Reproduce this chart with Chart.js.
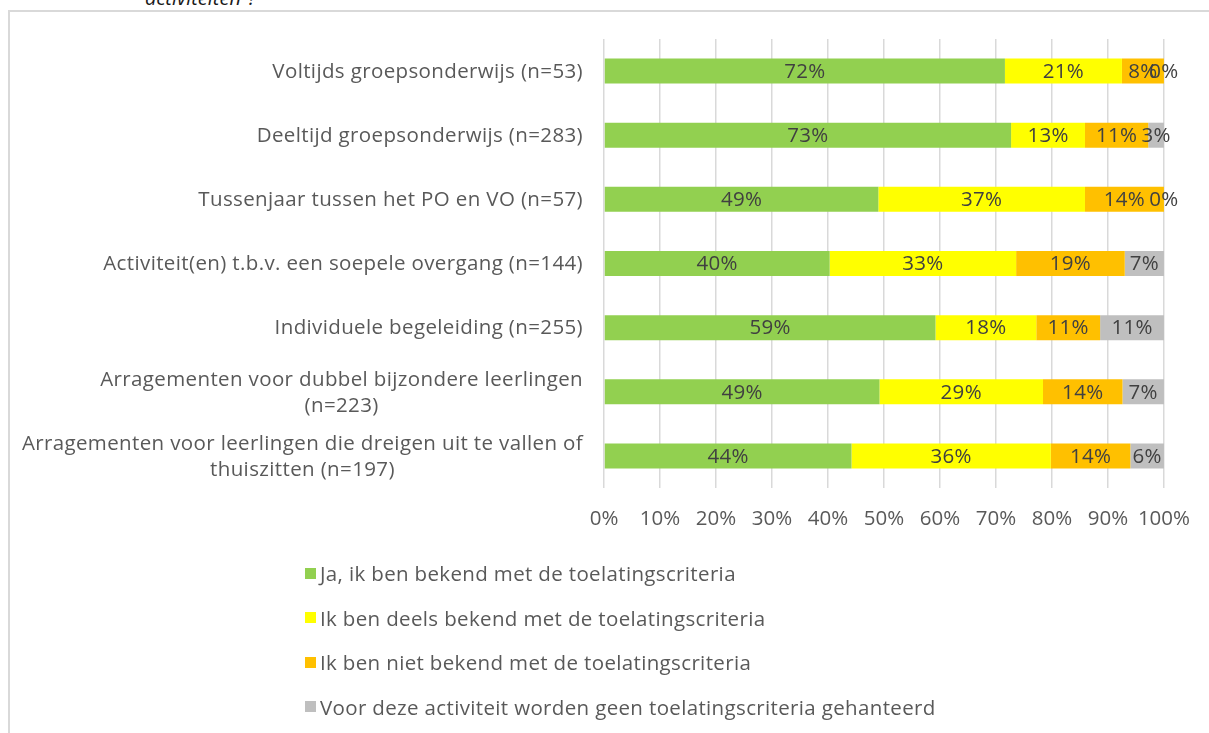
<!DOCTYPE html>
<html>
<head>
<meta charset="utf-8">
<script src="https://cdn.jsdelivr.net/npm/chart.js@4.4.1/dist/chart.umd.min.js"></script>
<style>
  html, body { margin: 0; padding: 0; background: #fff; overflow: hidden; }
  #wrap { position: relative; width: 1209px; height: 733px; }
  #frame { position: absolute; left: 8px; top: 10px; width: 1400px; height: 900px;
           border: 2px solid #d9d9d9; box-sizing: border-box; }
  #title { position: absolute; left: 145px; top: -12px; font-family: "Open Sans", sans-serif;
           font-style: italic; font-size: 20px; color: #1a1a1a; white-space: nowrap; line-height: 20px; }
  #chartBox { position: absolute; left: 0; top: 0; width: 1209px; height: 733px; }
  #legend { position: absolute; left: 305px; top: 560px; font-family: "Open Sans", sans-serif;
            font-size: 20.5px; letter-spacing: 0.35px; color: #595959; }
  #legend .item { display: flex; align-items: center; height: 26px; margin-bottom: 18.5px; white-space: nowrap; }
  #legend .box { width: 11px; height: 11px; margin-right: 4px; display: inline-block; }
</style>
</head>
<body>
<div id="wrap">
  <div id="frame"></div>
  <div id="title">activiteiten”?</div>
  <div id="chartBox"><canvas id="c" width="1209" height="733"></canvas></div>
  <div id="legend"></div>
</div>
<script>
const categories = [
  ["Voltijds groepsonderwijs (n=53)"],
  ["Deeltijd groepsonderwijs (n=283)"],
  ["Tussenjaar tussen het PO en VO (n=57)"],
  ["Activiteit(en) t.b.v. een soepele overgang (n=144)"],
  ["Individuele begeleiding (n=255)"],
  ["Arragementen voor dubbel bijzondere leerlingen", "(n=223)"],
  ["Arragementen voor leerlingen die dreigen uit te vallen of", "thuiszitten (n=197)"]
];
const seriesNames = [
  "Ja, ik ben bekend met de toelatingscriteria",
  "Ik ben deels bekend met de toelatingscriteria",
  "Ik ben niet bekend met de toelatingscriteria",
  "Voor deze activiteit worden geen toelatingscriteria gehanteerd"
];
const bekend      = [71.6, 72.7, 49.0, 40.3, 59.2, 49.2, 44.2];
const deels       = [20.9, 13.2, 36.9, 33.3, 18.0, 29.2, 35.6];
const nietBekend  = [7.5, 11.3, 14.1, 19.4, 11.4, 14.2, 14.2];
const geenCriteria= [0.0, 2.8, 0.0, 7.0, 11.4, 7.4, 6.0];
const xTicks = [0, 10, 20, 30, 40, 50, 60, 70, 80, 90, 100];
const colors = ["#92d050", "#ffff00", "#ffc000", "#bfbfbf"];

const FONT = "'Open Sans', sans-serif";
const FSIZE = 20.5;

const barLabels = {
  id: 'barLabels',
  afterDatasetsDraw(chart) {
    const ctx = chart.ctx;
    ctx.save();
    ctx.font = FSIZE + "px " + FONT;
    ctx.letterSpacing = "0.3px";
    ctx.fillStyle = "#404040";
    ctx.textAlign = "center";
    ctx.textBaseline = "middle";
    chart.data.datasets.forEach((ds, di) => {
      const meta = chart.getDatasetMeta(di);
      meta.data.forEach((el, i) => {
        const v = ds.data[i];
        const cx = (el.x + el.base) / 2;
        ctx.fillText(Math.round(v) + "%", cx, el.y + 1);
      });
    });
    ctx.restore();
  }
};

const catLabels = {
  id: 'catLabels',
  afterDraw(chart) {
    const ctx = chart.ctx;
    const ys = chart.scales.y;
    ctx.save();
    ctx.font = FSIZE + "px " + FONT;
    ctx.letterSpacing = "0.37px";
    ctx.fillStyle = "#595959";
    ctx.textBaseline = "middle";
    ctx.textAlign = "center";
    const right = chart.chartArea.left - 21;
    const lh = 26;
    categories.forEach((lines, i) => {
      const yc = ys.getPixelForValue(i);
      const w = Math.max(...lines.map(l => ctx.measureText(l).width));
      const cx = right - w / 2;
      lines.forEach((l, k) => {
        ctx.fillText(l, cx, yc + (k - (lines.length - 1) / 2) * lh + 1);
      });
    });
    ctx.restore();
  }
};

const chart = new Chart(document.getElementById('c'), {
  type: 'bar',
  data: {
    labels: categories.map(l => l.join(' ')),
    datasets: [bekend, deels, nietBekend, geenCriteria].map((d, i) => ({
      label: seriesNames[i],
      data: d,
      backgroundColor: colors[i],
      borderWidth: 0,
      barPercentage: 0.39,
      categoryPercentage: 1.0
    }))
  },
  options: {
    indexAxis: 'y',
    responsive: false,
    animation: false,
    layout: { padding: { top: 39, right: 44, left: 0, bottom: 195 } },
    plugins: { legend: { display: false }, tooltip: { enabled: false } },
    scales: {
      x: {
        stacked: true, min: 0, max: 100,
        afterBuildTicks: s => { s.ticks = xTicks.map(v => ({ value: v })); },
        ticks: { callback: v => v + '%', color: '#595959', font: { family: FONT, size: FSIZE }, padding: 19, maxRotation: 0 },
        grid: { color: '#d9d9d9', lineWidth: 1.5, drawTicks: false },
        border: { display: false },
        afterFit: s => { s.height = 50; }
      },
      y: {
        stacked: true,
        ticks: { display: false },
        grid: { display: false },
        border: { display: false },
        afterFit: s => { s.width = 604; }
      }
    }
  },
  plugins: [barLabels, catLabels]
});

// HTML legend built from the chart's datasets
const leg = document.getElementById('legend');
chart.data.datasets.forEach(ds => {
  const it = document.createElement('div');
  it.className = 'item';
  const b = document.createElement('span');
  b.className = 'box';
  b.style.background = ds.backgroundColor;
  const t = document.createElement('span');
  t.textContent = ds.label;
  it.appendChild(b); it.appendChild(t);
  leg.appendChild(it);
});
</script>
</body>
</html>
